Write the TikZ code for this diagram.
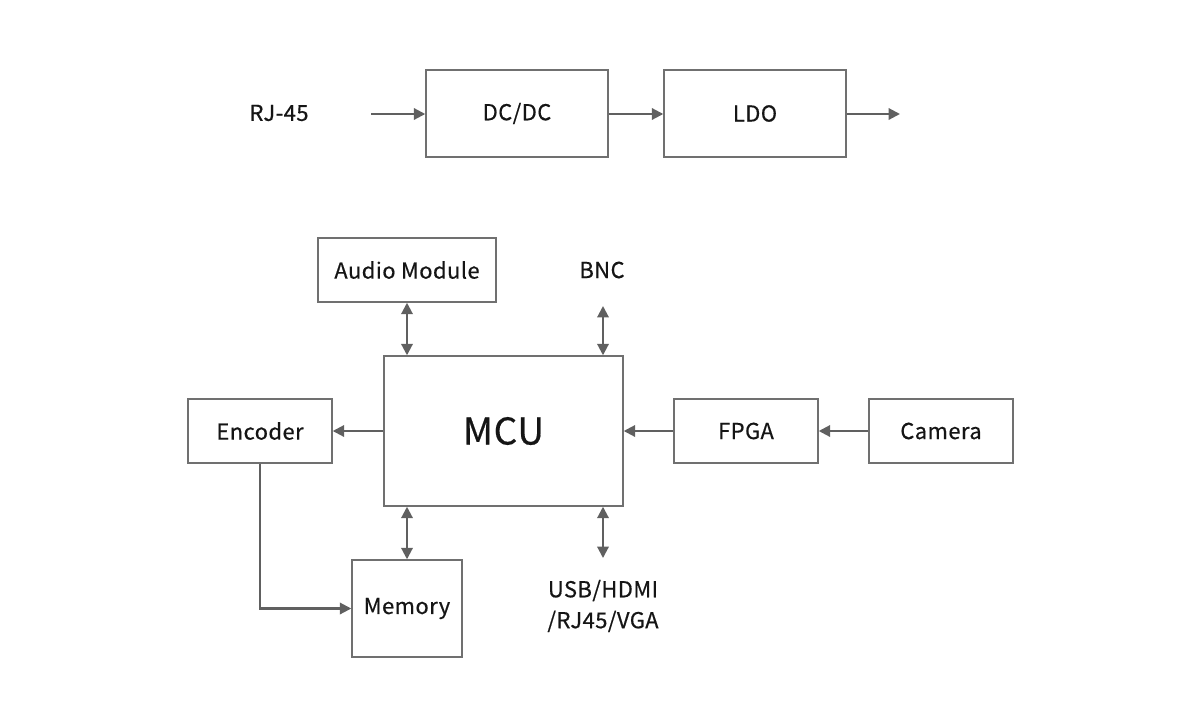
\documentclass[tikz,border=0pt]{standalone}
\usepackage{fontspec}
\setmainfont[FakeBold=0.5, LetterSpace=2]{Noto Sans CJK SC}
\usetikzlibrary{arrows.meta}

\definecolor{boxgray}{HTML}{707070}
\definecolor{linegray}{HTML}{606060}
\definecolor{textgray}{HTML}{151515}

\tikzset{
  block/.style={draw=boxgray, line width=0.85pt, text=textgray, font=\fontsize{12.5}{15}\selectfont, inner sep=0pt},
  label/.style={text=textgray, font=\fontsize{12.5}{17.6}\selectfont, align=center},
  link/.style={draw=linegray, line width=1.2pt, -{Triangle[length=6.5pt, width=6.5pt]}},
  duplex/.style={link, {Triangle[length=6.5pt, width=6.5pt]}-{Triangle[length=6.5pt, width=6.5pt]}}
}

\begin{document}
\begin{tikzpicture}[x=0.02cm, y=-0.02cm]
        \useasboundingbox (0,0) rectangle (1200,727);
        \node[label] (rj) at (279,113) {RJ-45};
        \node[block, minimum width=3.64cm, minimum height=1.74cm] (dcdc) at (517,113.5) {DC/DC};
        \node[block, minimum width=3.64cm, minimum height=1.74cm] (ldo) at (755,113.5) {LDO};
        \coordinate (rjout) at (371,114);
        \coordinate (ldoout) at (900,114);
        \draw[link] (rjout) -- (rjout -| dcdc.west);
        \draw[link] (dcdc.east |- rjout) -- (ldo.west |- rjout);
        \draw[link] (ldo.east |- rjout) -- (ldoout);

        \node[block, minimum width=3.56cm, minimum height=1.28cm] (audio) at (407,270) {Audio Module};
        \node[label] (bnc) at (602,270) {BNC};
        \node[block, minimum width=4.78cm, minimum height=3cm, font=\fontsize{21}{25}\selectfont] (mcu) at (503.5,431) {MCU};
        \node[block, minimum width=2.88cm, minimum height=1.28cm] (enc) at (260,431) {Encoder};
        \node[block, minimum width=2.88cm, minimum height=1.28cm] (fpga) at (746,431) {FPGA};
        \node[block, minimum width=2.88cm, minimum height=1.28cm] (cam) at (941,431) {Camera};
        \node[block, minimum width=2.2cm, minimum height=1.94cm] (mem) at (407,608.5) {Memory};
        \node[label] (usb) at (603,606) {USB/HDMI\\/RJ45/VGA};
        \coordinate (bncend) at (603,306);
        \coordinate (usbend) at (603,558);

        \draw[duplex] (audio.south) -- (audio.south |- mcu.north);
        \draw[duplex] (bncend) -- (bncend |- mcu.north);
        \draw[duplex] (mcu.south -| mem.north) -- (mem.north);
        \draw[duplex] (usbend |- mcu.south) -- (usbend);
        \draw[link] (mcu.west) -- (enc.east);
        \draw[link] (fpga.west) -- (mcu.east);
        \draw[link] (cam.west) -- (fpga.east);
        \draw[link] (enc.south) |- (mem.west);
      \end{tikzpicture}
\end{document}
